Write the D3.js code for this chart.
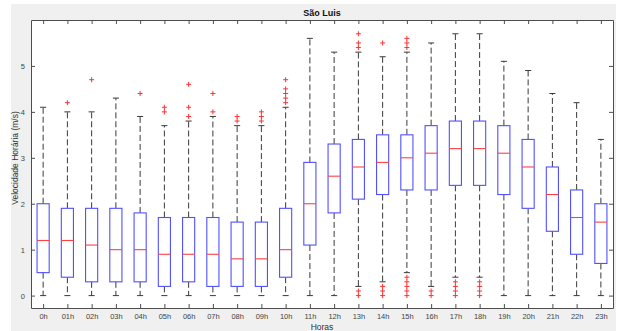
<!DOCTYPE html>
<html>
<head>
<meta charset="utf-8">
<script src="https://cdn.jsdelivr.net/npm/d3@7"></script>
<style>
  html, body { margin: 0; padding: 0; background: #fff; }
  svg { display: block; font-family: "Liberation Sans", Arial, sans-serif; }
</style>
</head>
<body>
<svg id="chart" width="619" height="331"></svg>
<script>
// hourly wind speed stats
const hours = ["0h", "01h", "02h", "03h", "04h", "05h", "06h", "07h", "08h", "09h", "10h", "11h",
  "12h", "13h", "14h", "15h", "16h", "17h", "18h", "19h", "20h", "21h", "22h", "23h"];
const q1 = [0.5, 0.4, 0.3, 0.3, 0.3, 0.2, 0.3, 0.2, 0.2, 0.2, 0.4, 1.1,
  1.8, 2.1, 2.2, 2.3, 2.3, 2.4, 2.4, 2.2, 1.9, 1.4, 0.9, 0.7];
const medians = [1.2, 1.2, 1.1, 1.0, 1.0, 0.9, 0.9, 0.9, 0.8, 0.8, 1.0, 2.0,
  2.6, 2.8, 2.9, 3.0, 3.1, 3.2, 3.2, 3.1, 2.8, 2.2, 1.7, 1.6];
const q3 = [2.0, 1.9, 1.9, 1.9, 1.8, 1.7, 1.7, 1.7, 1.6, 1.6, 1.9, 2.9,
  3.3, 3.4, 3.5, 3.5, 3.7, 3.8, 3.8, 3.7, 3.4, 2.8, 2.3, 2.0];
const whiskerLow = [0, 0, 0, 0, 0, 0, 0, 0, 0, 0, 0, 0,
  0, 0.2, 0.3, 0.5, 0.2, 0.4, 0.4, 0, 0, 0, 0, 0];
const whiskerHigh = [4.1, 4.0, 4.0, 4.3, 3.9, 3.7, 3.8, 3.9, 3.7, 3.7, 4.1, 5.6,
  5.3, 5.3, 5.2, 5.3, 5.5, 5.7, 5.7, 5.1, 4.9, 4.4, 4.2, 3.4];
const outliers = [
  [], [4.2], [4.7], [], [4.4], [4.0, 4.1], [3.9, 4.1, 4.6], [4.0, 4.4], [3.8, 3.9], [3.8, 3.9, 4.0],
  [4.2, 4.3, 4.4, 4.5, 4.7], [],
  [], [5.4, 5.5, 5.7, 0.1, 0.0], [5.5, 0.2, 0.1, 0.0], [5.4, 5.5, 5.6, 0.4, 0.3, 0.2, 0.1, 0.0],
  [0.1, 0.0], [0.3, 0.2, 0.1, 0.0], [0.3, 0.2, 0.1, 0.0], [], [], [], [], []
];
const yTicks = [0, 1, 2, 3, 4, 5];

const svg = d3.select("#chart");
const margin = { left: 31, right: 6, top: 20, bottom: 23 };
const width = 619, height = 331;
const innerW = width - margin.left - margin.right;
const innerH = height - margin.top - margin.bottom;

// figure background (matlab grey)
svg.append("rect")
  .attr("x", 11).attr("y", 4)
  .attr("width", 605).attr("height", height - 4)
  .attr("fill", "#f0f0f0");

const x = d3.scaleLinear().domain([0.5, hours.length + 0.5]).range([margin.left, margin.left + innerW]);
const y = d3.scaleLinear().domain([-0.27, 6]).range([margin.top + innerH, margin.top]);

const plot = svg.append("g");
plot.append("rect")
  .attr("x", margin.left).attr("y", margin.top)
  .attr("width", innerW).attr("height", innerH)
  .attr("fill", "#fff");

const axisColor = "#4d4d4d";
const tickLen = 4;

// axes, ticks point inward like matlab
const bottomAxis = svg.append("g")
  .attr("transform", `translate(0,${margin.top + innerH})`)
  .call(d3.axisBottom(x).tickValues(d3.range(1, hours.length + 1)).tickFormat((d) => hours[d - 1]).tickSizeInner(-tickLen).tickSizeOuter(0).tickPadding(6));
const topAxis = svg.append("g")
  .attr("transform", `translate(0,${margin.top})`)
  .call(d3.axisTop(x).tickValues(d3.range(1, hours.length + 1)).tickFormat("").tickSizeInner(-tickLen).tickSizeOuter(0));
const leftAxis = svg.append("g")
  .attr("transform", `translate(${margin.left},0)`)
  .call(d3.axisLeft(y).tickValues(yTicks).tickFormat(d3.format("d")).tickSizeInner(-tickLen).tickSizeOuter(0).tickPadding(6));
const rightAxis = svg.append("g")
  .attr("transform", `translate(${margin.left + innerW},0)`)
  .call(d3.axisRight(y).tickValues(yTicks).tickFormat("").tickSizeInner(-tickLen).tickSizeOuter(0));

[bottomAxis, topAxis, leftAxis, rightAxis].forEach((g) => {
  g.select(".domain").attr("stroke", axisColor);
  g.selectAll(".tick line").attr("stroke", axisColor);
  g.selectAll("text").attr("fill", "#444").attr("font-size", "7.5px").attr("font-family", "Liberation Sans, Arial, sans-serif");
});

const boxW = (x(1.5) - x(1)) ; // 0.5 units wide
const capW = boxW / 2;

const groups = plot.selectAll("g.box")
  .data(hours.map((h, i) => ({ h, i, q1: q1[i], med: medians[i], q3: q3[i], lo: whiskerLow[i], hi: whiskerHigh[i], out: outliers[i] })))
  .enter()
  .append("g")
  .attr("class", "box")
  .attr("transform", (d) => `translate(${x(d.i + 1)},0)`);

// whiskers
groups.append("line")
  .attr("y1", (d) => y(d.q3)).attr("y2", (d) => y(d.hi))
  .attr("stroke", "#3a3a3a").attr("stroke-dasharray", "6,3");
groups.append("line")
  .attr("y1", (d) => y(d.q1)).attr("y2", (d) => y(d.lo))
  .attr("stroke", "#3a3a3a").attr("stroke-dasharray", "6,3");
groups.append("line")
  .attr("x1", -capW / 2).attr("x2", capW / 2)
  .attr("y1", (d) => y(d.hi)).attr("y2", (d) => y(d.hi))
  .attr("stroke", "#3a3a3a");
groups.append("line")
  .attr("x1", -capW / 2).attr("x2", capW / 2)
  .attr("y1", (d) => y(d.lo)).attr("y2", (d) => y(d.lo))
  .attr("stroke", "#3a3a3a");

// boxes
groups.append("rect")
  .attr("x", -boxW / 2).attr("width", boxW)
  .attr("y", (d) => y(d.q3)).attr("height", (d) => y(d.q1) - y(d.q3))
  .attr("fill", "#fff").attr("stroke", "#5050ff").attr("stroke-width", 1.1);

// medians
groups.append("line")
  .attr("x1", -boxW / 2).attr("x2", boxW / 2)
  .attr("y1", (d) => y(d.med)).attr("y2", (d) => y(d.med))
  .attr("stroke", "#ff4040").attr("stroke-width", 1.1);

// outliers as red plus signs
groups.selectAll("path.out")
  .data((d) => d.out)
  .enter()
  .append("path")
  .attr("class", "out")
  .attr("d", (v) => `M-2.5,${y(v)}H2.5M0,${y(v) - 2.5}V${y(v) + 2.5}`)
  .attr("stroke", "#ff3030").attr("stroke-width", 1);

// titles
svg.append("text")
  .attr("x", margin.left + innerW / 2).attr("y", 16)
  .attr("text-anchor", "middle")
  .attr("font-size", "9px").attr("font-weight", "bold").attr("fill", "#111")
  .text("São Luis");
svg.append("text")
  .attr("x", margin.left + innerW / 2).attr("y", 330)
  .attr("text-anchor", "middle")
  .attr("font-size", "8.5px").attr("fill", "#333")
  .text("Horas");
svg.append("text")
  .attr("transform", `translate(18,${margin.top + innerH / 2 - 6}) rotate(-90)`)
  .attr("text-anchor", "middle")
  .attr("font-size", "8.5px").attr("fill", "#333")
  .text("Velocidade Horária (m/s)");
</script>
</body>
</html>
